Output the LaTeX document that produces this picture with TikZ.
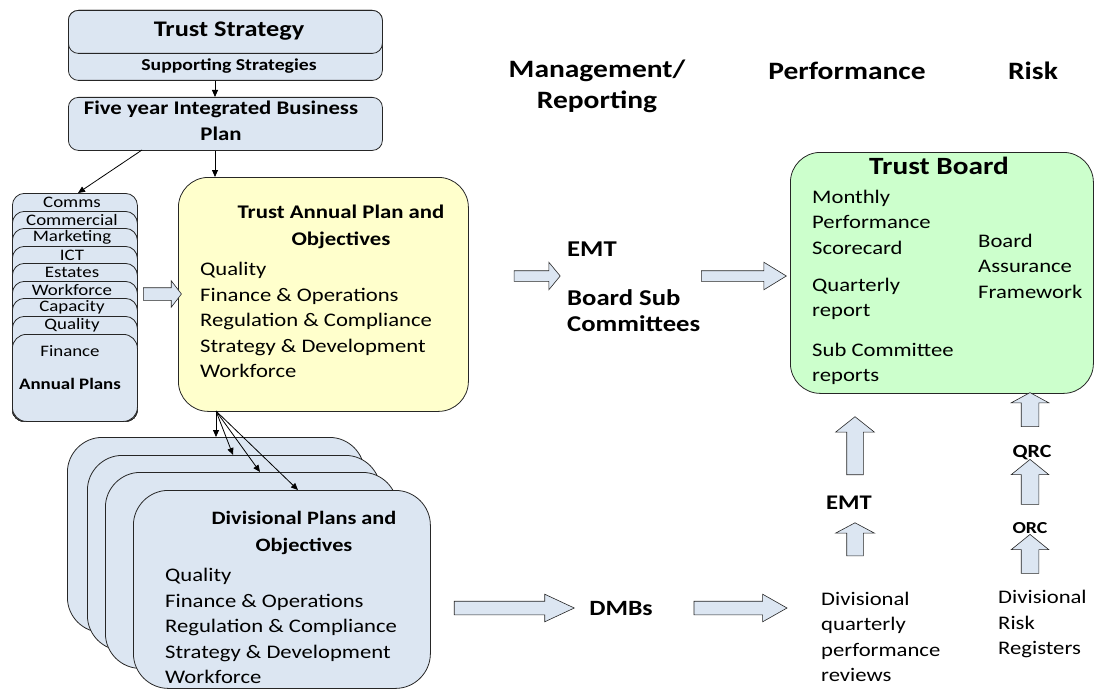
\documentclass[tikz,border=0pt]{standalone}
\usepackage{fontspec}
\setmainfont{Carlito}[FakeStretch=1.18]
\usetikzlibrary{arrows.meta, positioning, shapes.arrows}
\definecolor{planblue}{RGB}{220,230,242}
\definecolor{planyellow}{RGB}{255,255,204}
\definecolor{boardgreen}{RGB}{204,255,204}
\newcommand{\objectivestext}{Quality \\ Finance \& Operations \\ Regulation \& Compliance \\ Strategy \& Development \\ Workforce}
\newcommand{\bigfont}{\fontsize{25}{31}\selectfont}
\newcommand{\bodyfont}{\fontsize{19.2}{25.5}\selectfont}
\newcommand{\smallfont}{\fontsize{16}{18}\selectfont}

\begin{document}
\begin{tikzpicture}[x=1pt, y=-1pt,
  plan/.style={draw=black!85, fill=planblue, rounded corners=#1, anchor=north west, inner sep=0pt, line width=0.8pt},
  link/.style={-{Triangle[length=7pt, width=6pt]}, line width=0.8pt},
  fat/.style={single arrow, draw=black!85, fill=planblue, line width=0.6pt, inner xsep=0pt, inner ysep=#1},
  heading/.style={font=\bigfont\bfseries, align=center, inner sep=0pt},
  body/.style={font=\bodyfont, align=left, anchor=west, inner sep=0pt}]
  \useasboundingbox (0,0) rectangle (1094,690);

  %strategy and business plan
  \node[plan=10pt, minimum width=314pt, minimum height=70pt] (support) at (68,10) {};
  \node[plan=10pt, minimum width=314pt, minimum height=43pt] (strategy) at (68,10) {};
  \node[font=\fontsize{22.3}{26}\selectfont\bfseries, inner sep=0pt] at (229,31) {Trust Strategy};
  \node[font=\fontsize{16.7}{20}\selectfont\bfseries, inner sep=0pt] at (229,66) {Supporting Strategies};
  \node[plan=10pt, minimum width=314pt, minimum height=53pt] (fiveyear) at (68,97) {};
  \node[font=\fontsize{19.3}{26}\selectfont\bfseries, align=center, inner sep=0pt] at (221,121) {Five year Integrated Business\\Plan};

  %annual plans stacked
  \foreach \top/\plan [count=\i] in {193/Comms, 211/Commercial, 228/Marketing, 246/ICT, 263/Estates, 281/Workforce, 298/Capacity, 316/Quality}{
    \node[plan=12pt, minimum width=125pt, minimum height={(421-\top)*1pt}] (ap\i) at (12,\top) {};
    \node[font=\smallfont, inner sep=0pt] at (72,\top+9) {\plan};
  }
  \node[plan=14pt, minimum width=125pt, minimum height=87pt] (finance) at (12,334) {};
  \node[font=\smallfont, inner sep=0pt] at (70,351) {Finance};
  \node[font=\smallfont\bfseries, inner sep=0pt] at (70,384) {Annual Plans};

  %trust annual plan
  \node[draw=black!85, fill=planyellow, rounded corners=30pt, anchor=north west, minimum width=290pt, minimum height=234pt, line width=0.8pt] (annual) at (178,177) {};
  \node[font=\fontsize{19.3}{27}\selectfont\bfseries, align=center, inner sep=0pt] at (341,227) {Trust Annual Plan and\\Objectives};
  \node[body] at (200,320) {\objectivestext};

  %divisional plans stacked
  \foreach \l/\t/\r/\b [count=\i] in {67/437/364/632, 87/455/380/650, 105/472/397/668, 133/490/430/688}{
    \node[plan=35pt, minimum width={(\r-\l)*1pt}, minimum height={(\b-\t)*1pt}] (div\i) at (\l,\t) {};
  }
  \node[font=\fontsize{18.9}{27}\selectfont\bfseries, align=center, inner sep=0pt] at (304,533) {Divisional Plans and\\Objectives};
  \node[body] at (165,626) {\objectivestext};

  %board
  \node[draw=black!85, fill=boardgreen, rounded corners=30pt, anchor=north west, minimum width=303pt, minimum height=241pt, line width=0.8pt] (board) at (790,152) {};
  \node[font=\fontsize{24.8}{28}\selectfont\bfseries, inner sep=0pt] at (939,166) {Trust Board};
  \node[body] at (812,222) {Monthly\\Performance\\Scorecard};
  \node[body] at (812,299) {Quarterly\\report};
  \node[body] at (812,364) {Sub Committee\\reports};
  \node[body] at (978,266) {Board\\Assurance\\Framework};

  %column headings
  \node[heading] (mgmt) at (597,86) {Management/\\Reporting};
  \node[heading] (perf) at (847,71) {Performance};
  \node[heading] (risk) at (1033,71) {Risk};

  %reporting route
  \node[font=\fontsize{22.6}{26}\selectfont\bfseries, align=left, anchor=west, inner sep=0pt] (emt) at (567,249) {EMT};
  \node[font=\fontsize{22.6}{26}\selectfont\bfseries, align=left, anchor=west, inner sep=0pt] (subcom) at (567,311) {Board Sub\\Committees};
  \node[font=\fontsize{21.8}{26}\selectfont\bfseries, inner sep=0pt] (dmb) at (621,609) {DMBs};
  \node[font=\fontsize{20.8}{24}\selectfont\bfseries, inner sep=0pt] (emtperf) at (849,503) {EMT};
  \node[font=\fontsize{18.6}{22}\selectfont\bfseries, inner sep=0pt] (qrc) at (1032,453) {QRC};
  \node[font=\fontsize{16.8}{20}\selectfont\bfseries, inner sep=0pt] (orc) at (1030,528) {ORC};
  \node[body] (reviews) at (821,637) {Divisional\\quarterly\\performance\\reviews};
  \node[body] (registers) at (998,624) {Divisional\\Risk\\Registers};

  %thin arrows
  \draw[link] (support.south -| 215,0) -- (fiveyear.north -| 215,0);
  \draw[link] (fiveyear.south -| 215,0) -- (annual.north -| 215,0);
  \draw[link] (142,150) -- (ap1.north -| 78,0);
  \coordinate (split) at (216,411);
  \draw[link] (split) -- (div1.north -| 216,0);
  \draw[link] (split) -- (div2.north -| 233,0);
  \draw[link] (split) -- (div3.north -| 260,0);
  \draw[link] (split) -- (div4.north -| 298,0);

  %block arrows
  \node[fat=6pt, minimum height=38pt, single arrow head extend=7pt, single arrow tip angle=105] (toannual) at (160,294) {};
  \node[fat=5pt, minimum height=46pt, single arrow head extend=8.5pt, single arrow tip angle=101] (toemt) at (535,276) {};
  \node[fat=5pt, minimum height=85pt, single arrow head extend=8.5pt, single arrow tip angle=63] (toboard) at (739.5,276) {};
  \node[fat=6.5pt, minimum height=120pt, single arrow head extend=7pt, single arrow tip angle=50] (todmb) at (507,608) {};
  \node[fat=6.5pt, minimum height=93pt, single arrow head extend=7pt, single arrow tip angle=59] (toreviews) at (734.5,608) {};
  \node[fat=8pt, minimum height=58pt, single arrow head extend=11pt, single arrow tip angle=103, rotate=90] (upperf) at (855,449) {};
  \node[fat=8pt, minimum height=33pt, single arrow head extend=11pt, single arrow tip angle=124, rotate=90] (upemt) at (855,541.5) {};
  \node[fat=8.5pt, minimum height=34pt, single arrow head extend=10pt, single arrow tip angle=123, rotate=90] (upboard) at (1030,412) {};
  \node[fat=8.5pt, minimum height=45pt, single arrow head extend=10pt, single arrow tip angle=102, rotate=90] (upqrc) at (1030,485.5) {};
  \node[fat=8.5pt, minimum height=39pt, single arrow head extend=10pt, single arrow tip angle=102, rotate=90] (uporc) at (1030,557.5) {};
\end{tikzpicture}
\end{document}
